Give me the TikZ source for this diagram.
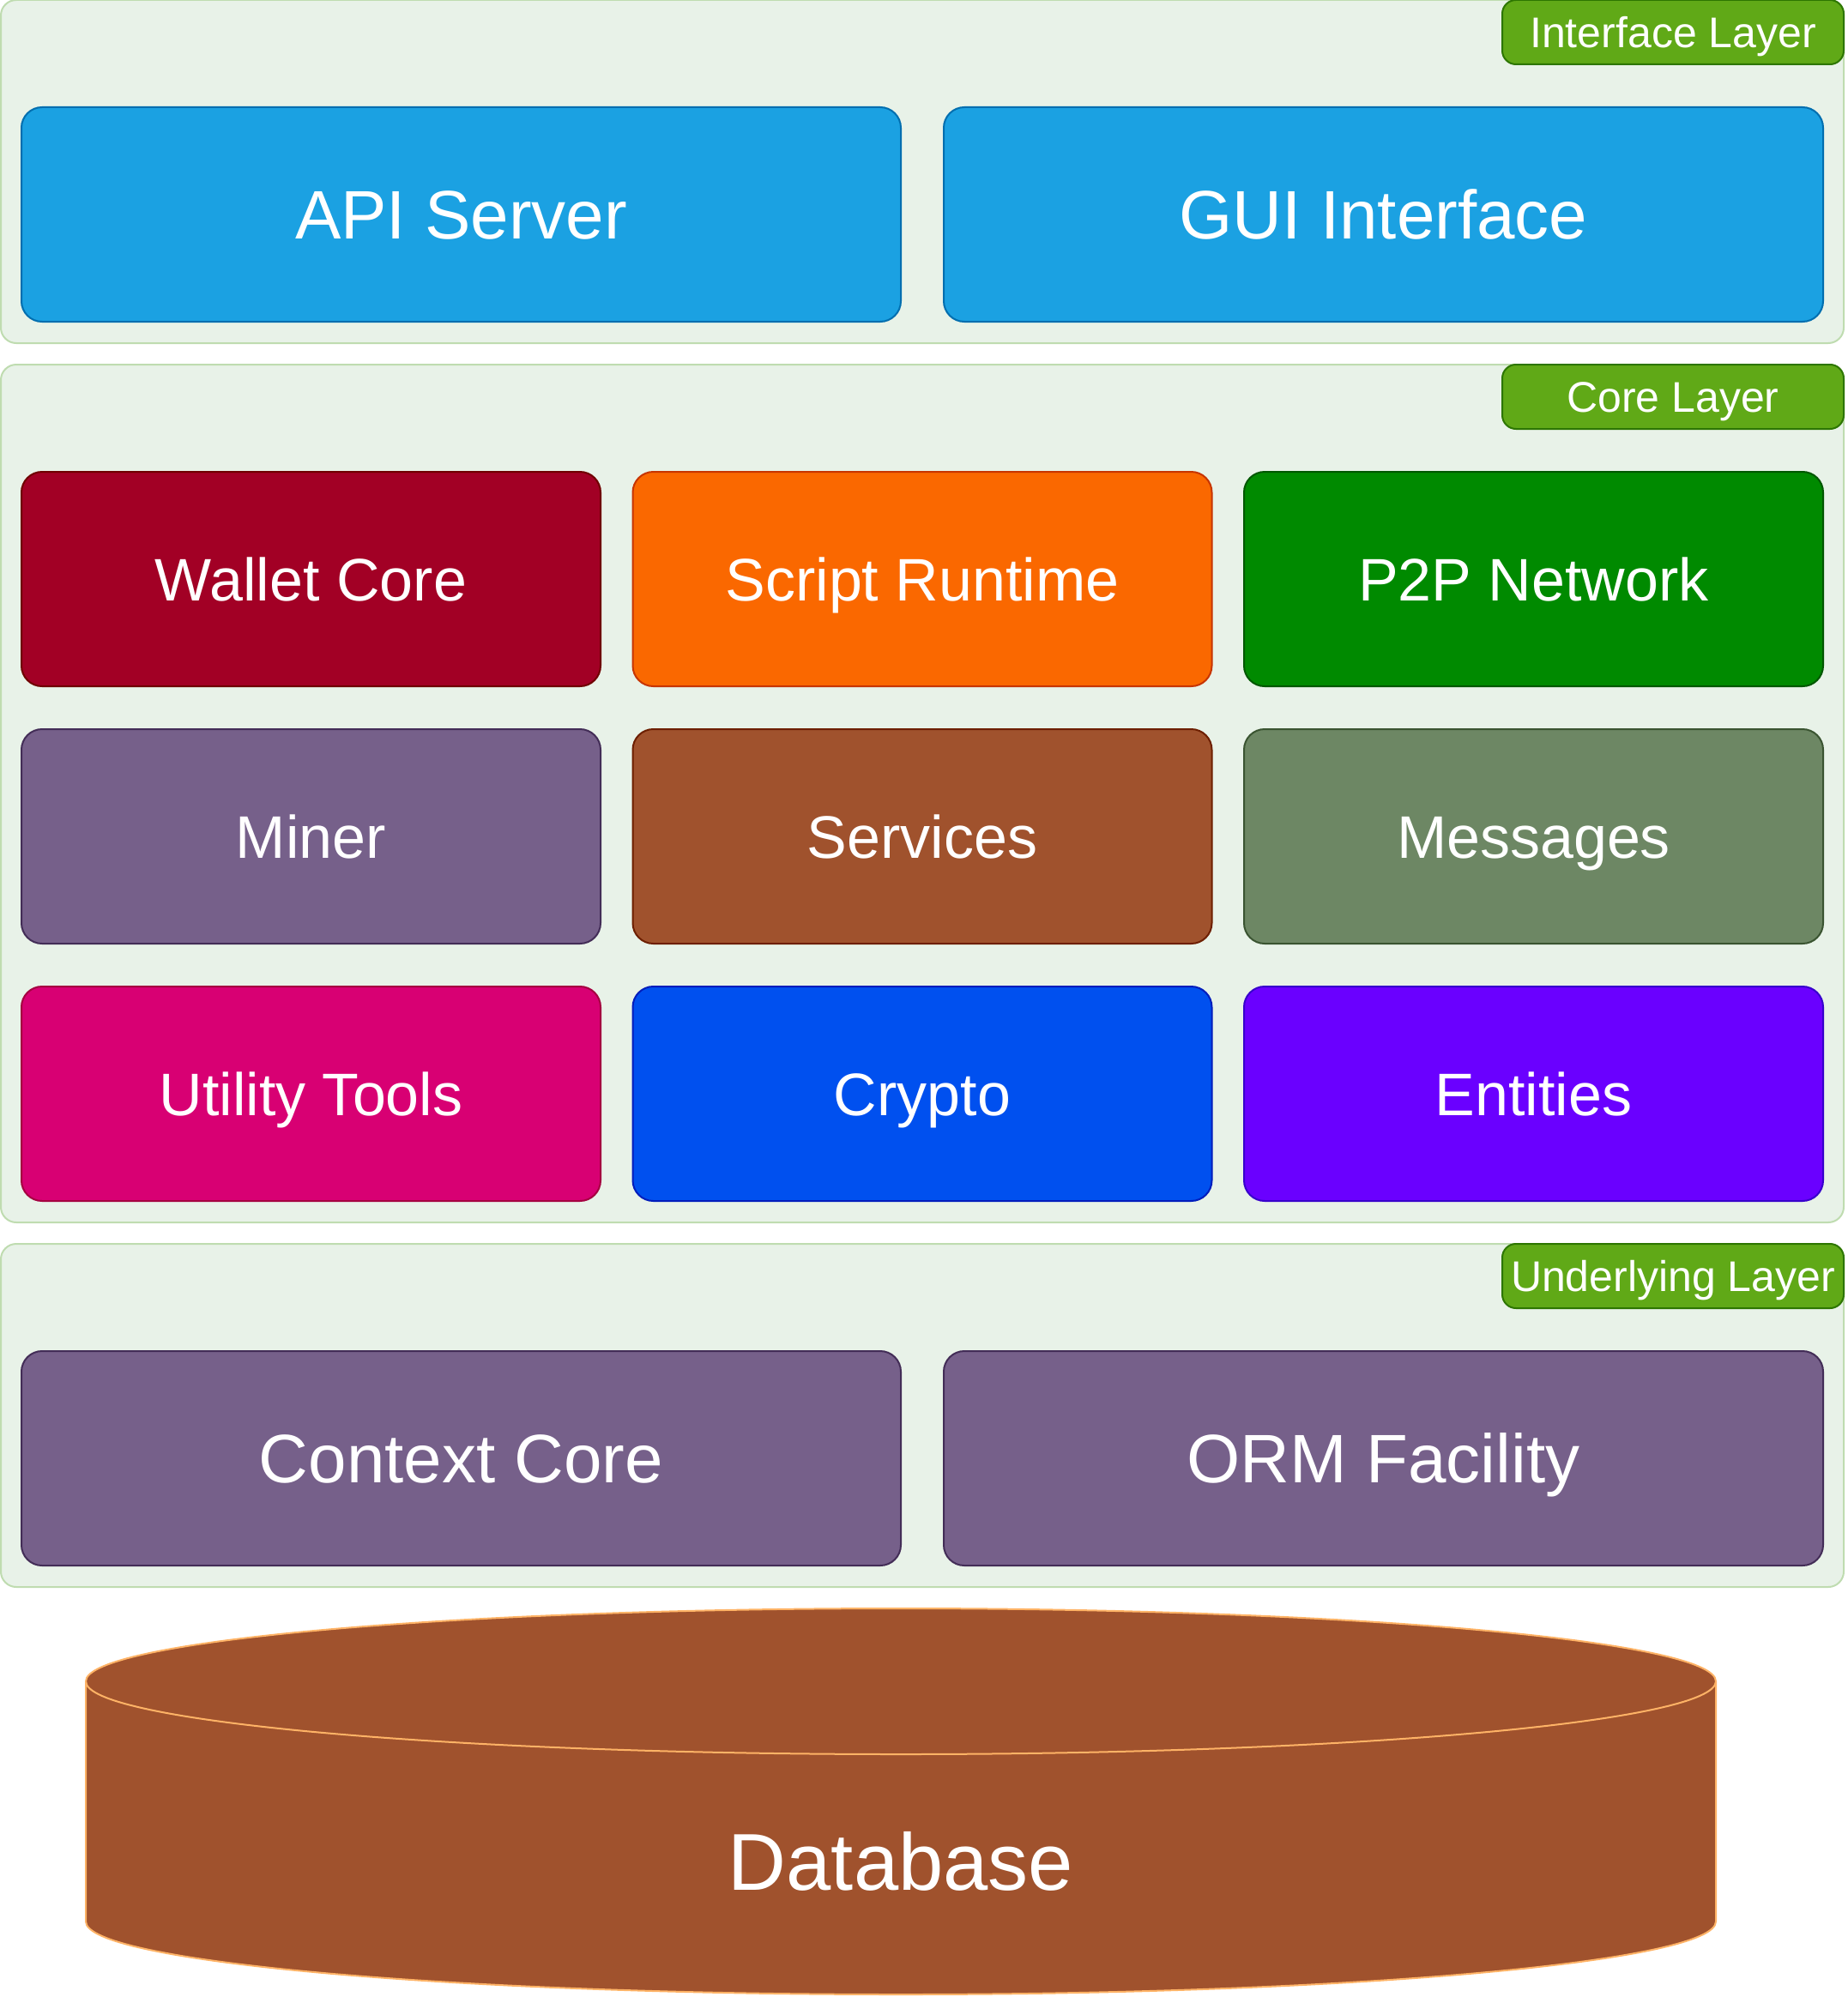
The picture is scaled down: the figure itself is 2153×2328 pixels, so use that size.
\documentclass[tikz,border=0pt]{standalone}
\usepackage{fontspec}
\setmainfont{Liberation Sans}

% layer colours
\definecolor{layerfill}{HTML}{E8F2E8}
\definecolor{layerline}{HTML}{BFDCB0}
\definecolor{tagfill}{HTML}{60A917}
\definecolor{tagline}{HTML}{2D7600}
% module colours (f = fill, d = draw)
\definecolor{fapi}{HTML}{1BA1E2}      \definecolor{dapi}{HTML}{006EAF}
\definecolor{fwallet}{HTML}{A20025}   \definecolor{dwallet}{HTML}{6F0000}
\definecolor{fscript}{HTML}{FA6800}   \definecolor{dscript}{HTML}{C73500}
\definecolor{fpeer}{HTML}{008A00}     \definecolor{dpeer}{HTML}{005700}
\definecolor{fminer}{HTML}{76608A}    \definecolor{dminer}{HTML}{432D57}
\definecolor{fservices}{HTML}{A0522D} \definecolor{dservices}{HTML}{6D1F00}
\definecolor{fmessages}{HTML}{6D8764} \definecolor{dmessages}{HTML}{3A5431}
\definecolor{futility}{HTML}{D80073}  \definecolor{dutility}{HTML}{A50040}
\definecolor{fcrypto}{HTML}{0050EF}   \definecolor{dcrypto}{HTML}{001DBC}
\definecolor{fentities}{HTML}{6A00FF} \definecolor{dentities}{HTML}{3700CC}
\definecolor{fdb}{HTML}{A0522D}       \definecolor{ddb}{HTML}{FFB366}

\tikzset{
	layer/.style={draw=layerline, fill=layerfill, line width=1pt, rounded corners=9pt,
		minimum width=1074pt, inner sep=0pt},
	tag/.style={draw=tagline, fill=tagfill, text=white, line width=1pt, rounded corners=8pt,
		minimum width=199pt, minimum height=37.5pt, inner sep=0pt,
		text height=18pt, text depth=0pt, font=\fontsize{25}{30}\selectfont},
	module/.style={line width=1pt, rounded corners=12pt, text=white, inner sep=0pt,
		text depth=0pt},
	widebox/.style={module, minimum width=512.5pt, minimum height=125pt,
		text height=28.8pt, font=\fontsize{40}{48}\selectfont},
	gridbox/.style={module, minimum width=337.5pt, minimum height=125pt,
		text height=25.2pt, font=\fontsize{35}{42}\selectfont},
}

\begin{document}
\begin{tikzpicture}[x=0.5pt, y=-0.5pt]
		\useasboundingbox (0,0) rectangle (2153,2328);
		% the three layers
		\node[layer, minimum height=200pt] (iface) at (1075,200) {};
		\node[layer, minimum height=500pt] (core) at (1075,925) {};
		\node[layer, minimum height=200pt] (under) at (1075,1650) {};
		% layer tags
		\node[tag] (ifacetag) at (1950,37.5) {Interface Layer};
		\node[tag] (coretag) at (1950,462.5) {Core Layer};
		\node[tag] (undertag) at (1950,1487.5) {Underlying Layer};
		% interface layer
		\node[widebox, fill=fapi, draw=dapi] (api) at (537.5,250) {API Server};
		\node[widebox, fill=fapi, draw=dapi] (gui) at (1612.5,250) {GUI Interface};
		% core layer, three by three
		\foreach \name/\txt/\x/\y in {
				wallet/Wallet Core/362.5/675, script/Script Runtime/1075/675, peer/P2P Network/1787.5/675,
				miner/Miner/362.5/975, services/Services/1075/975, messages/Messages/1787.5/975,
				utility/Utility Tools/362.5/1275, crypto/Crypto/1075/1275, entities/Entities/1787.5/1275}
		{
			\node[gridbox, fill=f\name, draw=d\name] (\name) at (\x,\y) {\txt};
		}
		% underlying layer
		\node[widebox, fill=fminer, draw=dminer] (context) at (537.5,1700) {Context Core};
		\node[widebox, fill=fminer, draw=dminer] (orm) at (1612.5,1700) {ORM Facility};
		% database cylinder
		\draw[fill=fdb, draw=ddb, line width=1pt] (100,1960) -- (100,2240)
			arc[start angle=180, end angle=0, x radius=950, y radius=85] -- (2000,1960)
			arc[start angle=0, end angle=-180, x radius=950, y radius=85] -- cycle;
		\draw[draw=ddb, line width=1pt] (100,1960)
			arc[start angle=180, end angle=0, x radius=950, y radius=85];
		\node[text=white, text height=33.8pt, text depth=0pt, font=\fontsize{47}{56}\selectfont]
			(db) at (1050,2170) {Database};
	\end{tikzpicture}
\end{document}
